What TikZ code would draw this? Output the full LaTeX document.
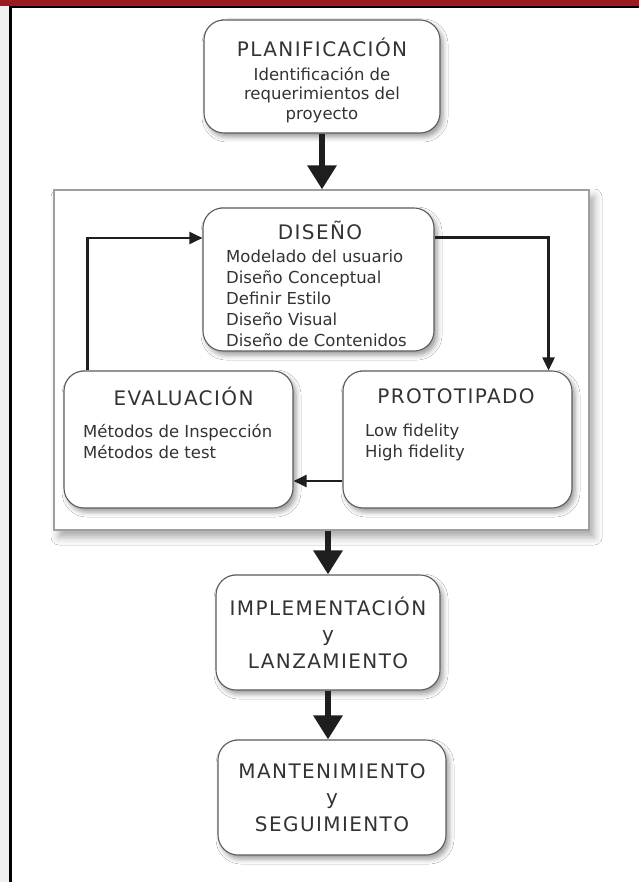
\documentclass[tikz,border=0pt]{standalone}
\usepackage{fontspec}
\setmainfont{DejaVu Sans}
\newfontfamily\capsfont[LetterSpace=7]{DejaVu Sans}
\usetikzlibrary{arrows.meta,shadows.blur}
\definecolor{bandred}{HTML}{9A1B22}
\definecolor{ink}{HTML}{333333}
\definecolor{edge}{HTML}{5C5C5C}
\definecolor{arrowink}{HTML}{1E1E1E}
\begin{document}
\begin{tikzpicture}[x=1pt,y=-1pt,
  stage/.style={draw=edge, line width=1.1pt, fill=white, rounded corners=20pt,
    inner sep=0pt,
    blur shadow={shadow xshift=3pt, shadow yshift=-4pt, shadow blur radius=5pt, shadow opacity=40}},
  frame/.style={draw=gray!75, line width=1.2pt, fill=white, inner sep=0pt,
    blur shadow={shadow xshift=5pt, shadow yshift=-7pt, shadow blur radius=8pt, shadow opacity=35}},
  ttl/.style={text=ink, font=\capsfont\fontsize{20}{26.5}\selectfont, align=center, inner sep=0pt},
  body/.style={text=ink, font=\fontsize{16.5}{21}\selectfont, align=left, inner sep=0pt},
  flow/.style={draw=arrowink, line width=6.5pt, -{Triangle[length=24pt,width=28pt]}},
  loop/.style={draw=arrowink, line width=2.2pt, -{Triangle[length=13pt,width=12pt]}},
]
% page and frame decoration
\fill[white] (0,0) rectangle (639,882);
\useasboundingbox (0,0) rectangle (639,882);
\fill[gray!12] (0,0) rectangle (10,882);
\fill[bandred] (0,0) rectangle (639,6.5);
\fill[black] (9,6) rectangle (639,8);
\fill[black] (9,6) rectangle (11.5,882);

% planning stage
\node[stage, minimum width=236pt, minimum height=113pt] (plan) at (322,76.5) {};
\node[ttl] (plan-t) at (322,47.5) {PLANIFICACIÓN};
\node[body, align=center, font=\fontsize{16.5}{19.5}\selectfont] (plan-b) at (322,95)
  {Identificación de\\requerimientos del\\proyecto};

% iterative design cycle
\node[frame, minimum width=535pt, minimum height=340pt] (group) at (321.5,360) {};

\node[stage, minimum width=231pt, minimum height=143pt] (dis) at (318.5,279.5) {};
\node[ttl] (dis-t) at (320,230) {DISEÑO};
\node[body, anchor=west] (dis-b) at (226,298)
  {Modelado del usuario\\Diseño Conceptual\\Definir Estilo\\Diseño Visual\\Diseño de Contenidos};

\node[stage, minimum width=229pt, minimum height=137pt] (eval) at (178.5,439.5) {};
\node[ttl] (eval-t) at (183.5,396) {EVALUACIÓN};
\node[body, anchor=west] (eval-b) at (83,442) {Métodos de Inspección\\Métodos de test};

\node[stage, minimum width=229pt, minimum height=137pt] (proto) at (457.5,439.5) {};
\node[ttl] (proto-t) at (456,396) {PROTOTIPADO};
\node[body, anchor=west] (proto-b) at (365,442) {Low fidelity\\High fidelity};

\draw[loop] ([xshift=24pt]eval.north west) |- ([yshift=41.5pt]dis.west);
\draw[loop] ([yshift=42pt]dis.east) -| ([xshift=-24pt]proto.north east);
\draw[loop] ([yshift=-41.5pt]proto.west) -- ([yshift=-41.5pt]eval.east);

% release and maintenance
\node[stage, ttl, inner sep=0pt, minimum width=224pt, minimum height=115pt] (impl) at (328,632.5)
  {IMPLEMENTACIÓN\\y\\LANZAMIENTO};
\node[stage, ttl, inner sep=0pt, minimum width=228pt, minimum height=115pt] (mant) at (332,797.5)
  {MANTENIMIENTO\\y\\SEGUIMIENTO};

% main flow
\draw[flow] (plan.south) -- (plan.south |- group.north);
\draw[flow] (impl.north |- group.south) -- (impl.north);
\draw[flow] (impl.south) -- (impl.south |- mant.north);
\end{tikzpicture}
\end{document}
